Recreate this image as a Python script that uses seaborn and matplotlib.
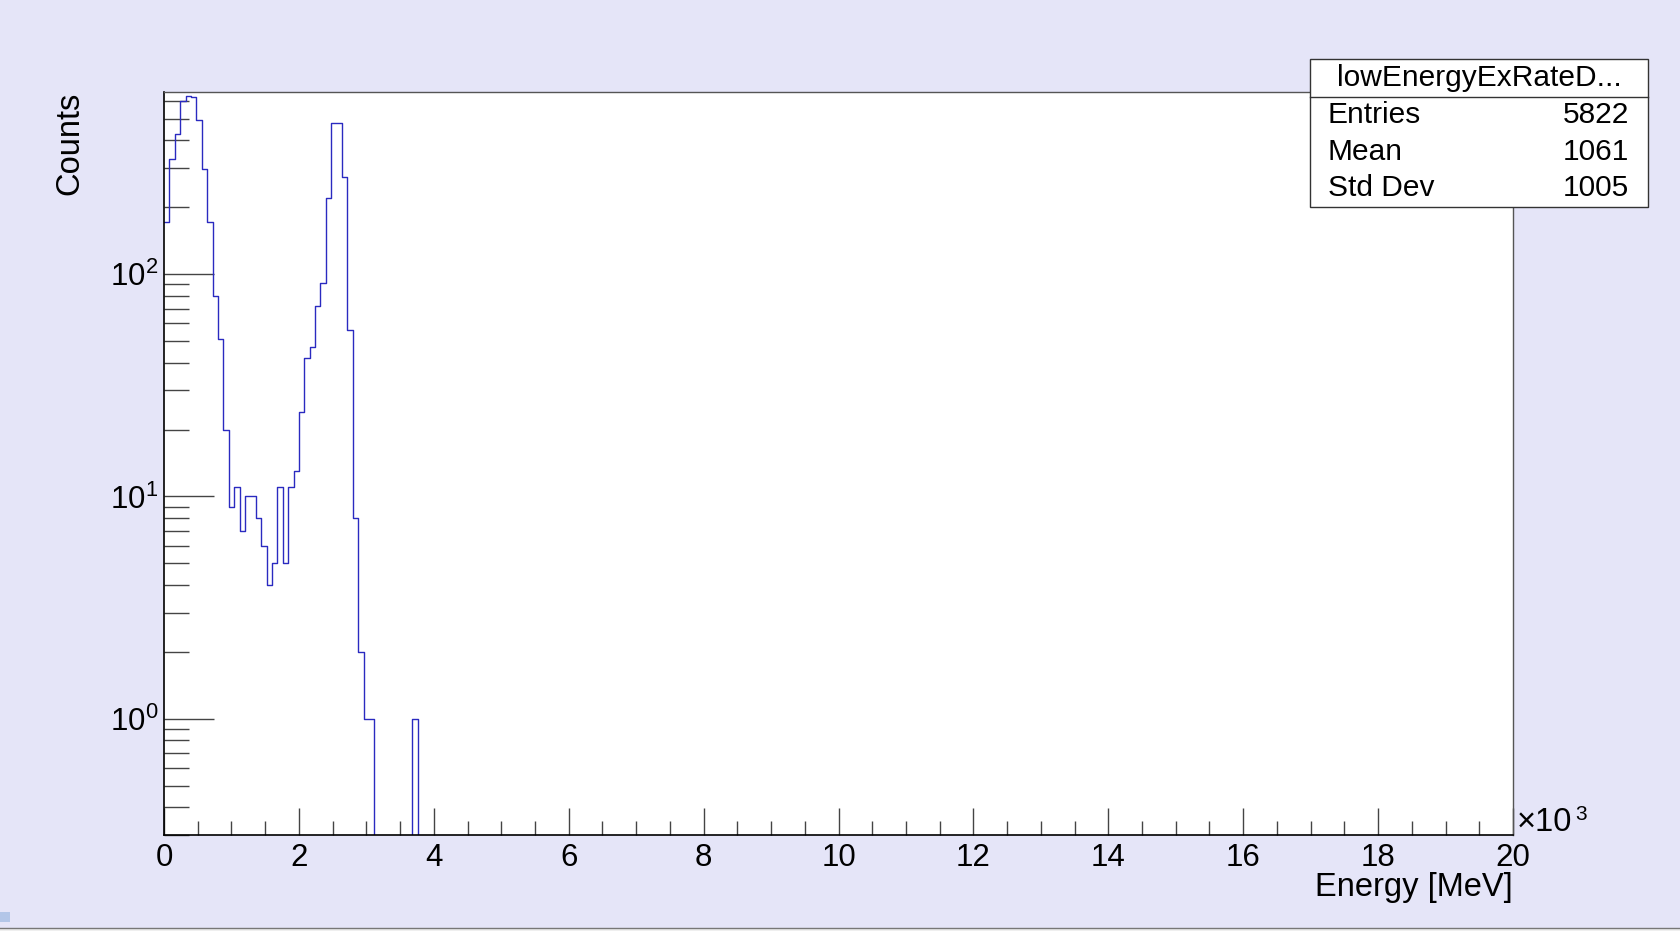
import numpy as np
import pandas as pd
import matplotlib
matplotlib.use("Agg")
import matplotlib.pyplot as plt
from matplotlib.patches import Rectangle
from matplotlib.lines import Line2D
from matplotlib.ticker import FixedLocator, FixedFormatter, NullFormatter, LogLocator
import seaborn as sns

# ---------------- data ----------------
bin_width_kev = 80
x_max_kev = 20000
counts = [171, 329, 428, 602, 634, 627, 496, 298, 172, 80,
          51, 20, 9, 11, 7, 10, 10, 8, 6, 4,
          5, 11, 5, 11, 13, 24, 42, 47, 72, 91,
          220, 478, 478, 274, 56, 8, 2, 1, 1, 0,
          0, 0, 0, 0, 0, 0, 1]
x_tick_values = [0, 2000, 4000, 6000, 8000, 10000, 12000, 14000, 16000, 18000, 20000]
x_tick_labels = ["0", "2", "4", "6", "8", "10", "12", "14", "16", "18", "20"]
y_tick_values = [1, 10, 100]
y_tick_labels = [r"$\mathregular{10^{0}}$", r"$\mathregular{10^{1}}$", r"$\mathregular{10^{2}}$"]
stats_title = "lowEnergyExRateD..."
stats_names = ["Entries", "Mean", "Std Dev"]
stats_values = ["5822", "1061", "1005"]
x_title = "Energy [MeV]"
y_title = "Counts"

# ---------------- style ----------------
plt.rcParams["font.family"] = ["Liberation Sans", "DejaVu Sans"]
plt.rcParams["mathtext.fontset"] = "custom"
plt.rcParams["mathtext.rm"] = "Liberation Sans"
plt.rcParams["mathtext.it"] = "Liberation Sans:italic"
plt.rcParams["mathtext.bf"] = "Liberation Sans:bold"

W, H = 1681, 931
BG = "#e5e5f8"
LINE = "#2a2ac0"
FS_TICK = 22.5
FS_TITLE = 23.5
FS_STAT = 21.5


def fx(x):
    return x / W


def fy(y):
    return 1 - y / H


fig = plt.figure(figsize=(W / 100, H / 100), dpi=100, facecolor=BG)
ax = fig.add_axes([fx(164), fy(835), (1513 - 164) / W, (835 - 92) / H])
ax.set_facecolor("white")

df = pd.DataFrame({
    "energy": (np.arange(len(counts)) + 0.5) * bin_width_kev,
    "counts": counts,
})
sns.histplot(data=df, x="energy", weights="counts",
             binwidth=bin_width_kev, binrange=(0, x_max_kev),
             element="step", fill=False, color=LINE, linewidth=1.0, ax=ax)

ax.set_yscale("log")
ax.set_xlim(0, x_max_kev)
ax.set_ylim(0.2998, 660)
ax.set_xlabel("")
ax.set_ylabel("")

# ticks
ax.xaxis.set_major_locator(FixedLocator(x_tick_values))
ax.xaxis.set_major_formatter(FixedFormatter(x_tick_labels))
ax.xaxis.set_minor_locator(FixedLocator(np.arange(0, x_max_kev + 1, 500)))
ax.yaxis.set_major_locator(FixedLocator(y_tick_values))
ax.yaxis.set_major_formatter(FixedFormatter(y_tick_labels))
ax.yaxis.set_minor_locator(LogLocator(base=10, subs=np.arange(2, 10)))
ax.yaxis.set_minor_formatter(NullFormatter())

ax.tick_params(axis="x", which="major", direction="in", length=19.5, width=1,
               color="#444444", labelsize=FS_TICK, pad=6, top=False)
ax.tick_params(axis="x", which="minor", direction="in", length=10, width=1,
               color="#444444", top=False)
ax.tick_params(axis="y", which="major", direction="in", length=36, width=1,
               color="#444444", labelsize=FS_TICK, pad=4, right=False)
ax.tick_params(axis="y", which="minor", direction="in", length=18, width=1,
               color="#444444", right=False)

for s in ["left", "bottom"]:
    ax.spines[s].set_color("black")
    ax.spines[s].set_linewidth(1.2)
for s in ["top", "right"]:
    ax.spines[s].set_color("#555555")
    ax.spines[s].set_linewidth(1.0)

# axis titles
fig.text(fx(70), fy(92), y_title, rotation=90, ha="center", va="top", fontsize=FS_TITLE)
fig.text(fx(1513), fy(896), x_title, ha="right", va="baseline", fontsize=FS_TITLE)
fig.text(fx(1517), fy(831), "\u00d710", ha="left", va="baseline", fontsize=23.5)
fig.text(fx(1575), fy(820), "3", ha="left", va="baseline", fontsize=15)

# stats box
bx0, by0, bx1, by1 = 1310, 59, 1648, 207
fig.add_artist(Rectangle((fx(bx0), fy(by1)), (bx1 - bx0) / W, (by1 - by0) / H,
                         transform=fig.transFigure, facecolor="white",
                         edgecolor="#333333", linewidth=1, zorder=5))
fig.add_artist(Line2D([fx(bx0), fx(bx1)], [fy(96.5), fy(96.5)],
                      transform=fig.transFigure, color="#333333", linewidth=1, zorder=6))
fig.text(fx((bx0 + bx1) / 2), fy(85.5), stats_title, ha="center", va="baseline",
         fontsize=FS_STAT, zorder=7)
for i, (n, v) in enumerate(zip(stats_names, stats_values)):
    yb = [123, 160, 196][i]
    fig.text(fx(1328), fy(yb), n, ha="left", va="baseline", fontsize=FS_STAT, zorder=7)
    fig.text(fx(1629), fy(yb), v, ha="right", va="baseline", fontsize=FS_STAT, zorder=7)

# bottom status strip and small marker
fig.add_artist(Rectangle((0, 0), 1, 3.5 / H, transform=fig.transFigure,
                         facecolor="#efefef", edgecolor="none", zorder=5))
fig.add_artist(Line2D([0, 1], [fy(927.5), fy(927.5)], transform=fig.transFigure,
                      color="#777777", linewidth=1, zorder=6))
fig.add_artist(Rectangle((0, fy(921.5)), 10 / W, 9.5 / H, transform=fig.transFigure,
                         facecolor="#b3c6e8", edgecolor="none", zorder=6))

fig.savefig("out.png", dpi=100, facecolor=BG)
